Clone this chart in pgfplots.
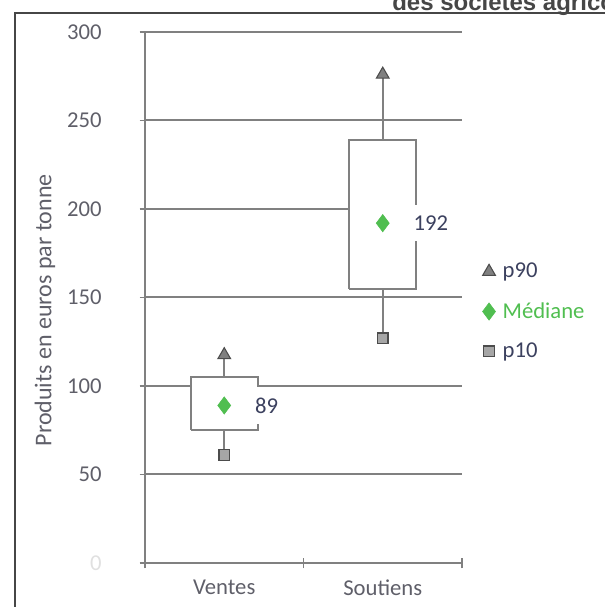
\documentclass[border=0pt]{standalone}
\usepackage{fontspec}
\setmainfont{Carlito}
\newfontfamily\titlefont{Liberation Sans}
\usepackage{pgfplots}
\pgfplotsset{compat=1.18}
\definecolor{linegray}{RGB}{128,128,128}
\definecolor{txtgray}{RGB}{95,95,105}
\definecolor{legtxt}{RGB}{60,65,95}
\definecolor{medgreen}{RGB}{80,190,80}
\definecolor{framegray}{RGB}{70,70,70}
\newcommand{\fs}{\fontsize{17}{20}\selectfont}
\begin{document}
\begin{tikzpicture}[x=1pt,y=1pt]
\useasboundingbox (0,0) rectangle (453.75,455.25);
\draw[framegray, line width=1.6pt] (11.25,-2) -- (11.25,445.5) -- (458,445.5);
\node[anchor=base west, inner sep=0, text=framegray, font=\titlefont\bfseries\fontsize{18}{20}\selectfont] at (294,447.5) {des sociétés agricoles};
\begin{axis}[
  at={(108.75pt,33pt)}, anchor=south west,
  scale only axis, width=237.75pt, height=398.25pt,
  xmin=0, xmax=2, ymin=0, ymax=300,
  clip=false,
  axis lines*=left,
  axis line style={linegray, line width=1.5pt},
  ymajorgrids, grid style={linegray, line width=1.5pt},
  tick style={linegray, line width=1.2pt}, tick align=center, major tick length=8pt,
  ytick={0,50,100,150,200,250,300},
  yticklabels={\textcolor{black!12}{0},50,100,150,200,250,300},
  yticklabel style={font=\fs, text=txtgray, anchor=east, xshift=-25pt},
  xtick={0,1,2}, xticklabels={},
  extra x ticks={0.5,1.5}, extra x tick labels={Ventes,Soutiens},
  extra x tick style={major tick length=0pt, xticklabel style={font=\fs, text=txtgray, yshift=-9pt}},
  /pgf/number format/assume math mode=true,
  ylabel={Produits en euros par tonne},
  ylabel style={at={(axis description cs:-0.3155,0.476)}, anchor=center, font=\fontsize{18}{20}\selectfont, text=txtgray},
  legend style={at={(axis description cs:1.05,0.575)}, anchor=north west, draw=none, fill=none, font=\fs, row sep=13pt},
  legend cell align=left,
  legend image code/.code={\path (0pt,0pt) (13pt,0pt); \draw[#1] plot coordinates {(5pt,0pt)};},
]
% boxes
\addplot[forget plot, linegray, line width=1.5pt, fill=white, line join=miter] coordinates {(0.29,75)(0.71,75)(0.71,105)(0.29,105)(0.29,75)};
\addplot[forget plot, linegray, line width=1.5pt, fill=white, line join=miter] coordinates {(1.29,155)(1.71,155)(1.71,239)(1.29,239)(1.29,155)};
% whiskers
\addplot[forget plot, linegray, line width=1.5pt] coordinates {(0.5,105)(0.5,117.5)};
\addplot[forget plot, linegray, line width=1.5pt] coordinates {(0.5,61)(0.5,75)};
\addplot[forget plot, linegray, line width=1.5pt] coordinates {(1.5,239)(1.5,276)};
\addplot[forget plot, linegray, line width=1.5pt] coordinates {(1.5,127)(1.5,155)};
% markers
\addplot[only marks, mark=triangle*, mark size=5.5pt, mark options={fill=linegray, draw=black!70, line width=0.8pt}] coordinates {(0.5,117.5)(1.5,276)};
\addlegendentry{\textcolor{legtxt}{p90}}
\addplot[only marks, mark=diamond*, mark size=6.5pt, mark options={fill=medgreen, draw=medgreen},
  nodes near coords, point meta=explicit symbolic,
  nodes near coords style={anchor=west, xshift=18pt, fill=white, inner xsep=5pt, inner ysep=8pt, text=legtxt, font=\fs, text width=34pt}] coordinates {(0.5,89)[89] (1.5,192)[192]};
\addlegendentry{\textcolor{medgreen}{Médiane}}
\addplot[only marks, mark=square*, mark size=4pt, mark options={fill=black!35, draw=black!70, line width=1pt}] coordinates {(0.5,61)(1.5,127)};
\addlegendentry{\textcolor{legtxt}{p10}}
\end{axis}
\end{tikzpicture}
\end{document}
